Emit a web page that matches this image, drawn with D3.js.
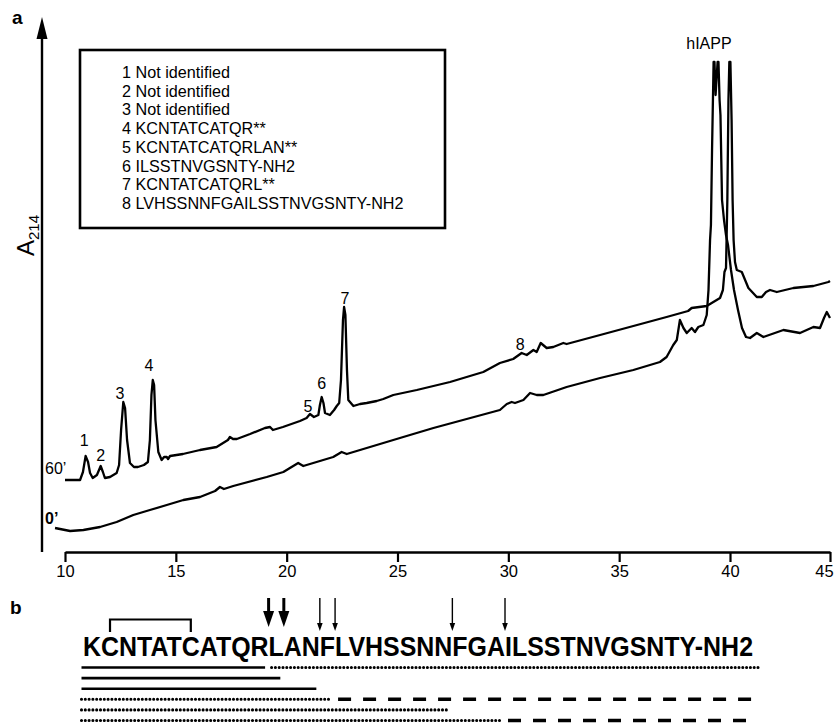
<!DOCTYPE html>
<html>
<head>
<meta charset="utf-8">
<script src="https://cdn.jsdelivr.net/npm/d3@7"></script>
<style>
  body { margin: 0; background: #fff; }
  svg { display: block; font-family: 'Liberation Sans', Arial, sans-serif; }
</style>
</head>
<body>
<svg id="chart" width="838" height="724"></svg>
<script>
// retention time (min) and A214 (arbitrary units)
const time60 = [10.00, 10.68, 10.81, 10.93, 11.04, 11.13, 11.25, 11.44, 11.61, 11.71,
  11.80, 12.03, 12.33, 12.44, 12.53, 12.63, 12.71, 12.80, 12.93, 13.11,
  13.29, 13.56, 13.74, 13.83, 13.90, 13.96, 14.02, 14.08, 14.21, 14.36,
  14.47, 14.59, 14.65, 14.74, 15.32, 16.09, 16.84, 17.35, 17.44, 17.58,
  17.75, 18.35, 19.02, 19.25, 19.38, 19.83, 20.60, 20.90, 21.05, 21.23,
  21.43, 21.50, 21.58, 21.66, 21.73, 21.95, 22.14, 22.26, 22.37, 22.45,
  22.54, 22.59, 22.65, 22.72, 22.78, 23.01, 23.31, 23.61, 24.06, 24.36,
  24.81, 25.87, 27.37, 28.87, 29.62, 30.22, 30.60, 30.83, 31.13, 31.28,
  31.46, 31.73, 32.03, 32.48, 32.63, 34.14, 35.64, 37.14, 38.11, 38.27,
  38.95, 39.55, 39.68, 39.75, 39.82, 39.88, 39.93, 39.97, 40.02, 40.08,
  40.13, 40.18, 40.25, 40.34, 40.59, 40.92, 41.34, 41.59, 41.80, 42.00,
  42.34, 43.17, 44.17, 44.92, 45.00]
const abs60 = [72, 72, 80, 96, 90, 79, 74, 77, 86, 80,
  74, 75, 79, 87, 122, 150, 144, 112, 89, 85,
  85, 87, 90, 112, 157, 172, 167, 132, 100, 92,
  95, 95, 93, 96, 98, 102, 105, 112, 115, 113,
  113, 118, 124, 125, 122, 125, 131, 134, 138, 135,
  137, 147, 155, 149, 139, 137, 142, 146, 149, 172,
  232, 245, 237, 182, 152, 146, 148, 149, 151, 153,
  157, 162, 170, 180, 189, 193, 199, 197, 202, 200,
  209, 204, 205, 209, 208, 217, 226, 235, 241, 244,
  246, 254, 262, 280, 284, 352, 452, 490, 490, 432,
  352, 312, 290, 282, 280, 264, 255, 255, 260, 262,
  260, 264, 266, 270, 271]

const time0 = [9.55, 10.23, 10.83, 11.58, 12.33, 13.08, 13.83, 14.59, 15.34, 16.09,
  16.77, 16.99, 17.17, 17.59, 19.10, 19.85, 20.52, 20.75, 22.10, 22.48,
  22.71, 23.61, 25.11, 26.62, 28.12, 29.62, 29.93, 30.15, 30.30, 30.68,
  30.98, 31.28, 31.58, 32.63, 34.14, 35.64, 36.84, 37.14, 37.44, 37.60,
  37.74, 37.90, 38.05, 38.27, 38.42, 38.57, 38.80, 38.95, 39.03, 39.10,
  39.14, 39.19, 39.26, 39.30, 39.35, 39.39, 39.44, 39.48, 39.53, 39.57,
  39.64, 39.73, 39.82, 39.91, 40.05, 40.20, 40.40, 40.60, 40.80, 41.00,
  41.34, 41.67, 42.67, 43.50, 44.17, 44.50, 44.70, 44.84, 45.00]
const abs0 = [24, 21, 22, 25, 30, 37, 42, 47, 52, 55,
  61, 65, 63, 66, 75, 80, 89, 86, 95, 100,
  98, 104, 114, 124, 133, 142, 148, 150, 149, 152,
  159, 157, 157, 165, 174, 182, 190, 195, 207, 212,
  232, 224, 219, 224, 220, 225, 227, 237, 262, 312,
  327, 402, 490, 490, 457, 472, 490, 490, 452, 437,
  352, 332, 317, 307, 282, 262, 242, 224, 215, 214,
  219, 215, 222, 219, 225, 224, 234, 240, 234]

const xTicks = [10, 15, 20, 25, 30, 35, 40, 45]

const peakNames = ['1', '2', '3', '4', '5', '6', '7', '8', 'hIAPP']
const peakTimes = [10.87, 11.61, 12.48, 13.79, 20.96, 21.58, 22.63, 30.53, 39.05]
const peakHeights = [106, 91, 153, 181, 140, 163, 248, 202, 503]

const legendItems = [
  '1 Not identified',
  '2 Not identified',
  '3 Not identified',
  '4 KCNTATCATQR**',
  '5 KCNTATCATQRLAN**',
  '6 ILSSTNVGSNTY-NH2',
  '7 KCNTATCATQRL**',
  '8 LVHSSNNFGAILSSTNVGSNTY-NH2'
]

// panel b
const sequence = 'KCNTATCATQRLANFLVHSSNNFGAILSSTNVGSNTY-NH2'
const nResidues = 37
const majorSites = [11, 12]
const minorSites = [14, 15, 22, 25]
const disulfide = [2, 7]
const fragRow = [0, 0, 1, 2, 3, 3, 4, 5, 5]
const fragFrom = [1, 12, 1, 1, 1, 16, 1, 1, 26]
const fragTo = [11, 37, 12, 14, 15, 37, 22, 25, 37]
const fragStyle = ['solid', 'dotted', 'solid', 'solid', 'dotted', 'dashed', 'dotted', 'dotted', 'dashed']

const svg = d3.select('#chart')
svg.append('rect').attr('width', 838).attr('height', 724).attr('fill', '#fff')

const x = d3.scaleLinear().domain([10, 40, 45]).range([65, 730, 830])
const y = d3.scaleLinear().domain([0, 520]).range([552, 32])

// panel labels
svg.append('text').attr('x', 12).attr('y', 24).attr('font-size', 19).attr('font-weight', 'bold').text('a')
svg.append('text').attr('x', 10).attr('y', 614).attr('font-size', 19).attr('font-weight', 'bold').text('b')

// y axis: plain arrow, no ticks
svg.append('line')
  .attr('x1', 42).attr('x2', 42).attr('y1', 36).attr('y2', 552)
  .attr('stroke', '#000').attr('stroke-width', 2.4)
svg.append('path')
  .attr('d', 'M42,17L36.5,39L47.5,39Z')
  .attr('fill', '#000')

const yLab = svg.append('text')
  .attr('transform', 'translate(34,256) rotate(-90)')
  .attr('font-size', 24)
yLab.append('tspan').text('A')
yLab.append('tspan').attr('font-size', 15).attr('dy', 5).text('214')

// x axis
const xAxis = svg.append('g')
  .attr('transform', `translate(0,${y(0)})`)
  .call(d3.axisBottom(x).tickValues(xTicks).tickSize(10).tickSizeOuter(0).tickPadding(3))
xAxis.select('.domain').attr('stroke-width', 2.4)
xAxis.selectAll('.tick line').attr('stroke-width', 2.2)
xAxis.selectAll('.tick text')
  .attr('font-size', 16.5)
  .attr('font-family', "'Liberation Sans', Arial, sans-serif")
  .attr('fill', '#000')
  .attr('dx', d => d === 45 ? -6 : 0)

// traces
const line = d3.line().x(d => x(d[0])).y(d => y(d[1]))
const traces = [d3.zip(time60, abs60), d3.zip(time0, abs0)]
svg.selectAll('path.trace')
  .data(traces)
  .join('path')
  .attr('class', 'trace')
  .attr('d', line)
  .attr('fill', 'none')
  .attr('stroke', '#000')
  .attr('stroke-width', 2.3)
  .attr('stroke-linejoin', 'round')

svg.append('text').attr('x', 45).attr('y', 474).attr('font-size', 16).text('60\u2019')
svg.append('text').attr('x', 45).attr('y', 524).attr('font-size', 16).attr('font-weight', 'bold').text('0\u2019')

svg.selectAll('text.peak')
  .data(peakNames)
  .join('text')
  .attr('class', 'peak')
  .attr('x', (d, i) => x(peakTimes[i]))
  .attr('y', (d, i) => y(peakHeights[i]))
  .attr('text-anchor', 'middle')
  .attr('font-size', 16)
  .text(d => d)

// legend box
svg.append('rect')
  .attr('x', 80).attr('y', 50).attr('width', 365).attr('height', 178)
  .attr('fill', 'none').attr('stroke', '#000').attr('stroke-width', 2.6)
svg.selectAll('text.legend')
  .data(legendItems)
  .join('text')
  .attr('class', 'legend')
  .attr('x', 122)
  .attr('y', (d, i) => 78 + i * 18.7)
  .attr('font-size', 16.2)
  .text(d => d)

// panel b: sequence with cleavage sites
const seqG = svg.append('g')
const seqFont = 27
const seqX = 83
const seqWidth = 670
const probe = seqG.append('text').attr('font-size', seqFont).attr('font-weight', 'bold')
const cum = d3.range(sequence.length + 1).map(i => {
  probe.text(sequence.slice(0, i))
  return i ? probe.node().getComputedTextLength() : 0
})
probe.remove()
const natural = cum[sequence.length]
const resX = d3.scaleLinear()
  .domain(d3.range(sequence.length + 1))
  .range(cum.map(c => seqX + c * seqWidth / natural))
const edge = k => k >= nResidues ? resX(sequence.length) : resX(k)

seqG.append('text')
  .attr('x', seqX).attr('y', 656)
  .attr('font-size', seqFont).attr('font-weight', 'bold')
  .attr('textLength', seqWidth).attr('lengthAdjust', 'spacingAndGlyphs')
  .text(sequence)

// disulfide bracket
const bx1 = resX(disulfide[0] - 0.5)
const bx2 = resX(disulfide[1] - 0.5)
seqG.append('path')
  .attr('d', `M${bx1},632V619.5H${bx2}V632`)
  .attr('fill', 'none').attr('stroke', '#000').attr('stroke-width', 2.2)

seqG.selectAll('g.major')
  .data(majorSites)
  .join('g')
  .attr('class', 'major')
  .each((d, i, nodes) => {
    const g = d3.select(nodes[i])
    const cx = edge(d)
    g.append('line').attr('x1', cx).attr('x2', cx).attr('y1', 598).attr('y2', 614)
      .attr('stroke', '#000').attr('stroke-width', 3)
    g.append('path').attr('d', `M${cx - 5.5},611L${cx + 5.5},611L${cx},627Z`).attr('fill', '#000')
  })

seqG.selectAll('g.minor')
  .data(minorSites)
  .join('g')
  .attr('class', 'minor')
  .each((d, i, nodes) => {
    const g = d3.select(nodes[i])
    const cx = edge(d)
    g.append('line').attr('x1', cx).attr('x2', cx).attr('y1', 598).attr('y2', 625)
      .attr('stroke', '#000').attr('stroke-width', 1.4)
    g.append('path').attr('d', `M${cx - 2.8},623L${cx + 2.8},623L${cx},631Z`).attr('fill', '#000')
  })

// fragment coverage lines
const rowY = d3.scaleLinear().domain([0, 5]).range([667.5, 720.5])
const styles = {
  solid: { w: 2.6, dash: null, cap: 'butt' },
  dotted: { w: 3.1, dash: '0 3.8', cap: 'round' },
  dashed: { w: 3.6, dash: '13 12', cap: 'butt' }
}
seqG.selectAll('line.frag')
  .data(fragRow)
  .join('line')
  .attr('class', 'frag')
  .attr('x1', (d, i) => fragFrom[i] === 1 ? resX(0) - 1.5 : edge(fragFrom[i] - 1) + 3)
  .attr('x2', (d, i) => fragTo[i] >= nResidues ? edge(nResidues) + (fragStyle[i] === 'dotted' ? 8 : 4) : edge(fragTo[i]) - 3.5)
  .attr('y1', d => rowY(d))
  .attr('y2', d => rowY(d))
  .attr('stroke', '#000')
  .attr('stroke-width', (d, i) => styles[fragStyle[i]].w)
  .attr('stroke-dasharray', (d, i) => styles[fragStyle[i]].dash)
  .attr('stroke-linecap', (d, i) => styles[fragStyle[i]].cap)
</script>
</body>
</html>
